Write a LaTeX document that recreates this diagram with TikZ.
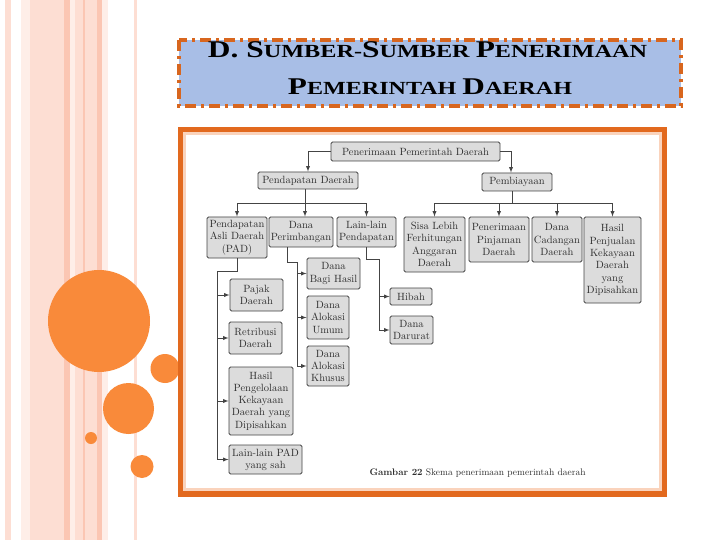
\documentclass[tikz,border=0pt]{standalone}
\usepackage{fontspec}
\usepackage{graphicx}
\usepackage{tikz}
\usetikzlibrary{positioning}

\newfontfamily\titlefont{Liberation Serif}
\newcommand\besar[1]{{\fontsize{24}{26}\selectfont #1}}
\newcommand\kecil[1]{{\fontsize{18.5}{26}\selectfont #1}}

\definecolor{stripeA}{HTML}{FDDED3}
\definecolor{stripeB}{HTML}{FBC6B3}
\definecolor{stripeC}{HTML}{FEEEE8}
\definecolor{dotorange}{HTML}{F98A3A}
\definecolor{frameorange}{HTML}{E2691E}
\definecolor{framepeach}{HTML}{FAD3BC}
\definecolor{titleblue}{HTML}{A8BEE6}
\definecolor{titledash}{HTML}{D8661E}
\definecolor{boxfill}{HTML}{DCDCDC}
\definecolor{boxline}{HTML}{444444}
\definecolor{boxtext}{HTML}{2E2E2E}

\begin{document}
\begin{tikzpicture}[x=1pt,y=-1pt,
    kotak/.style={draw=boxline, fill=boxfill, rounded corners=1.5pt, line width=0.9pt,
        align=center, inner sep=0pt, text=boxtext, font=\fontsize{10.5}{12.3}\selectfont},
    panah/.style={-latex, draw=boxline, line width=0.9pt},
    garis/.style={draw=boxline, line width=0.9pt}]
        \useasboundingbox (0,0) rectangle (720,540);
        \fill[white] (0,0) rectangle (720,540);
        % stripes on the left
        \foreach \a/\b/\c in {5/11/stripeA, 21/30/stripeC, 30/64/stripeA, 64/70/stripeB,
                70/75/stripeC, 75/83/stripeA, 83/85/stripeB, 85/97/stripeA,
                97/102/stripeB, 102/108/stripeC, 134/137/stripeA} {
            \fill[\c] (\a,0) rectangle (\b,540);
        }
        \foreach \x/\y/\r in {99/321/51, 165/368.5/14.5, 128.5/408.5/25.5, 91/438/6, 142/466.5/11.5} {
            \fill[dotorange] (\x,\y) circle (\r pt);
        }
        % title
        \draw[titledash, fill=titleblue, line width=3.5pt, dash pattern=on 11pt off 5pt on 3pt off 5pt]
            (179,40) rectangle (681,106);
        \node[anchor=base] (judul1) at (427.5,57.3) {\resizebox{439pt}{\height}{\titlefont\bfseries
            \besar{D. S}\kecil{UMBER-}\besar{S}\kecil{UMBER }\besar{P}\kecil{ENERIMAAN}}};
        \node[anchor=base] (judul2) at (430,95) {\resizebox{284pt}{\height}{\titlefont\bfseries
            \besar{P}\kecil{EMERINTAH }\besar{D}\kecil{AERAH}}};
        % frame of the picture
        \fill[frameorange] (178,127) rectangle (667,497);
        \fill[framepeach] (183,132) rectangle (662,491);
        \fill[white] (186,135) rectangle (659,488);

        \node[kotak, minimum width=169pt, minimum height=19pt] (root) at (415.5,151.5) {Penerimaan Pemerintah Daerah};
        \node[kotak, minimum width=100pt, minimum height=17pt] (pd) at (308,180.5) {Pendapatan Daerah};
        \node[kotak, minimum width=70pt, minimum height=18pt] (pb) at (517,182) {Pembiayaan};

        \node[kotak, minimum width=60pt, minimum height=41pt] (pad) at (237,237.5) {Pendapatan\\Asli Daerah\\(PAD)};
        \node[kotak, minimum width=64pt, minimum height=30pt] (dp) at (301,232) {Dana\\Perimbangan};
        \node[kotak, minimum width=59pt, minimum height=30pt] (llp) at (366.5,232) {Lain-lain\\Pendapatan};

        \node[kotak, minimum width=61pt, minimum height=55pt] (silpa) at (434.5,244.5) {Sisa Lebih\\Ferhitungan\\Anggaran\\Daerah};
        \node[kotak, minimum width=60pt, minimum height=45pt] (ppd) at (499,239.5) {Penerimaan\\Pinjaman\\Daerah};
        \node[kotak, minimum width=50pt, minimum height=45pt] (dcd) at (557,239.5) {Dana\\Cadangan\\Daerah};
        \node[kotak, minimum width=57pt, minimum height=86pt] (hpk) at (612.5,260) {Hasil\\Penjualan\\Kekayaan\\Daerah\\yang\\Dipisahkan};

        \node[kotak, minimum width=53pt, minimum height=32pt] (pajak) at (256.5,295) {Pajak\\Daerah};
        \node[kotak, minimum width=53pt, minimum height=32pt] (retribusi) at (255.5,338) {Retribusi\\Daerah};
        \node[kotak, minimum width=64pt, minimum height=68pt] (hpkd) at (261,401) {Hasil\\Pengelolaan\\Kekayaan\\Daerah yang\\Dipisahkan};
        \node[kotak, minimum width=73pt, minimum height=29pt] (lpad) at (265.5,459.5) {Lain-lain PAD\\yang sah};

        \node[kotak, minimum width=53pt, minimum height=31pt] (dbh) at (333.5,273.5) {Dana\\Bagi Hasil};
        \node[kotak, minimum width=42pt, minimum height=43pt] (dau) at (328,317.5) {Dana\\Alokasi\\Umum};
        \node[kotak, minimum width=42pt, minimum height=40pt] (dak) at (328,366) {Dana\\Alokasi\\Khusus};

        \node[kotak, minimum width=42pt, minimum height=17pt] (hibah) at (411,296.5) {Hibah};
        \node[kotak, minimum width=43pt, minimum height=28pt] (darurat) at (411.5,330) {Dana\\Darurat};

        \node[anchor=west, text=boxtext, font=\fontsize{9.5}{11}\selectfont] (caption) at (366,473)
            {\textbf{Gambar 22} Skema penerimaan pemerintah daerah};

        % connectors
        \draw[panah] (root.west) -| (pd.north);
        \draw[panah] (root.east) -| ([xshift=-6pt]pb.north);

        \coordinate (busL) at (305,203);
        \draw[garis] (busL |- pd.south) -- (busL);
        \draw[panah] (busL) -| (pad.north);
        \draw[panah] (busL) -- (busL |- dp.north);
        \draw[panah] (busL) -| (llp.north);

        \coordinate (busR) at (512,203);
        \draw[garis] (busR |- pb.south) -- (busR);
        \draw[panah] (busR) -| (silpa.north);
        \draw[panah] (busR) -| (ppd.north);
        \draw[panah] (busR) -| (dcd.north);
        \draw[panah] (busR) -| (hpk.north);

        \coordinate (padspine) at (217,271);
        \draw[garis] (pad.south) |- (padspine) -- (padspine |- lpad.west);
        \foreach \n in {pajak,retribusi,hpkd,lpad} {
            \draw[panah] (padspine |- \n.west) -- (\n.west);
        }

        \coordinate (dpdrop) at (287,262);
        \coordinate (dpspine) at (297,262);
        \draw[garis] (dpdrop |- dp.south) -- (dpdrop) -- (dpspine) -- (dpspine |- dak.west);
        \foreach \n in {dbh,dau,dak} {
            \draw[panah] (dpspine |- \n.west) -- (\n.west);
        }

        \coordinate (llpspine) at (379,259);
        \draw[garis] (llp.south) |- (llpspine) -- (llpspine |- darurat.west);
        \foreach \n in {hibah,darurat} {
            \draw[panah] (llpspine |- \n.west) -- (\n.west);
        }
\end{tikzpicture}
\end{document}
